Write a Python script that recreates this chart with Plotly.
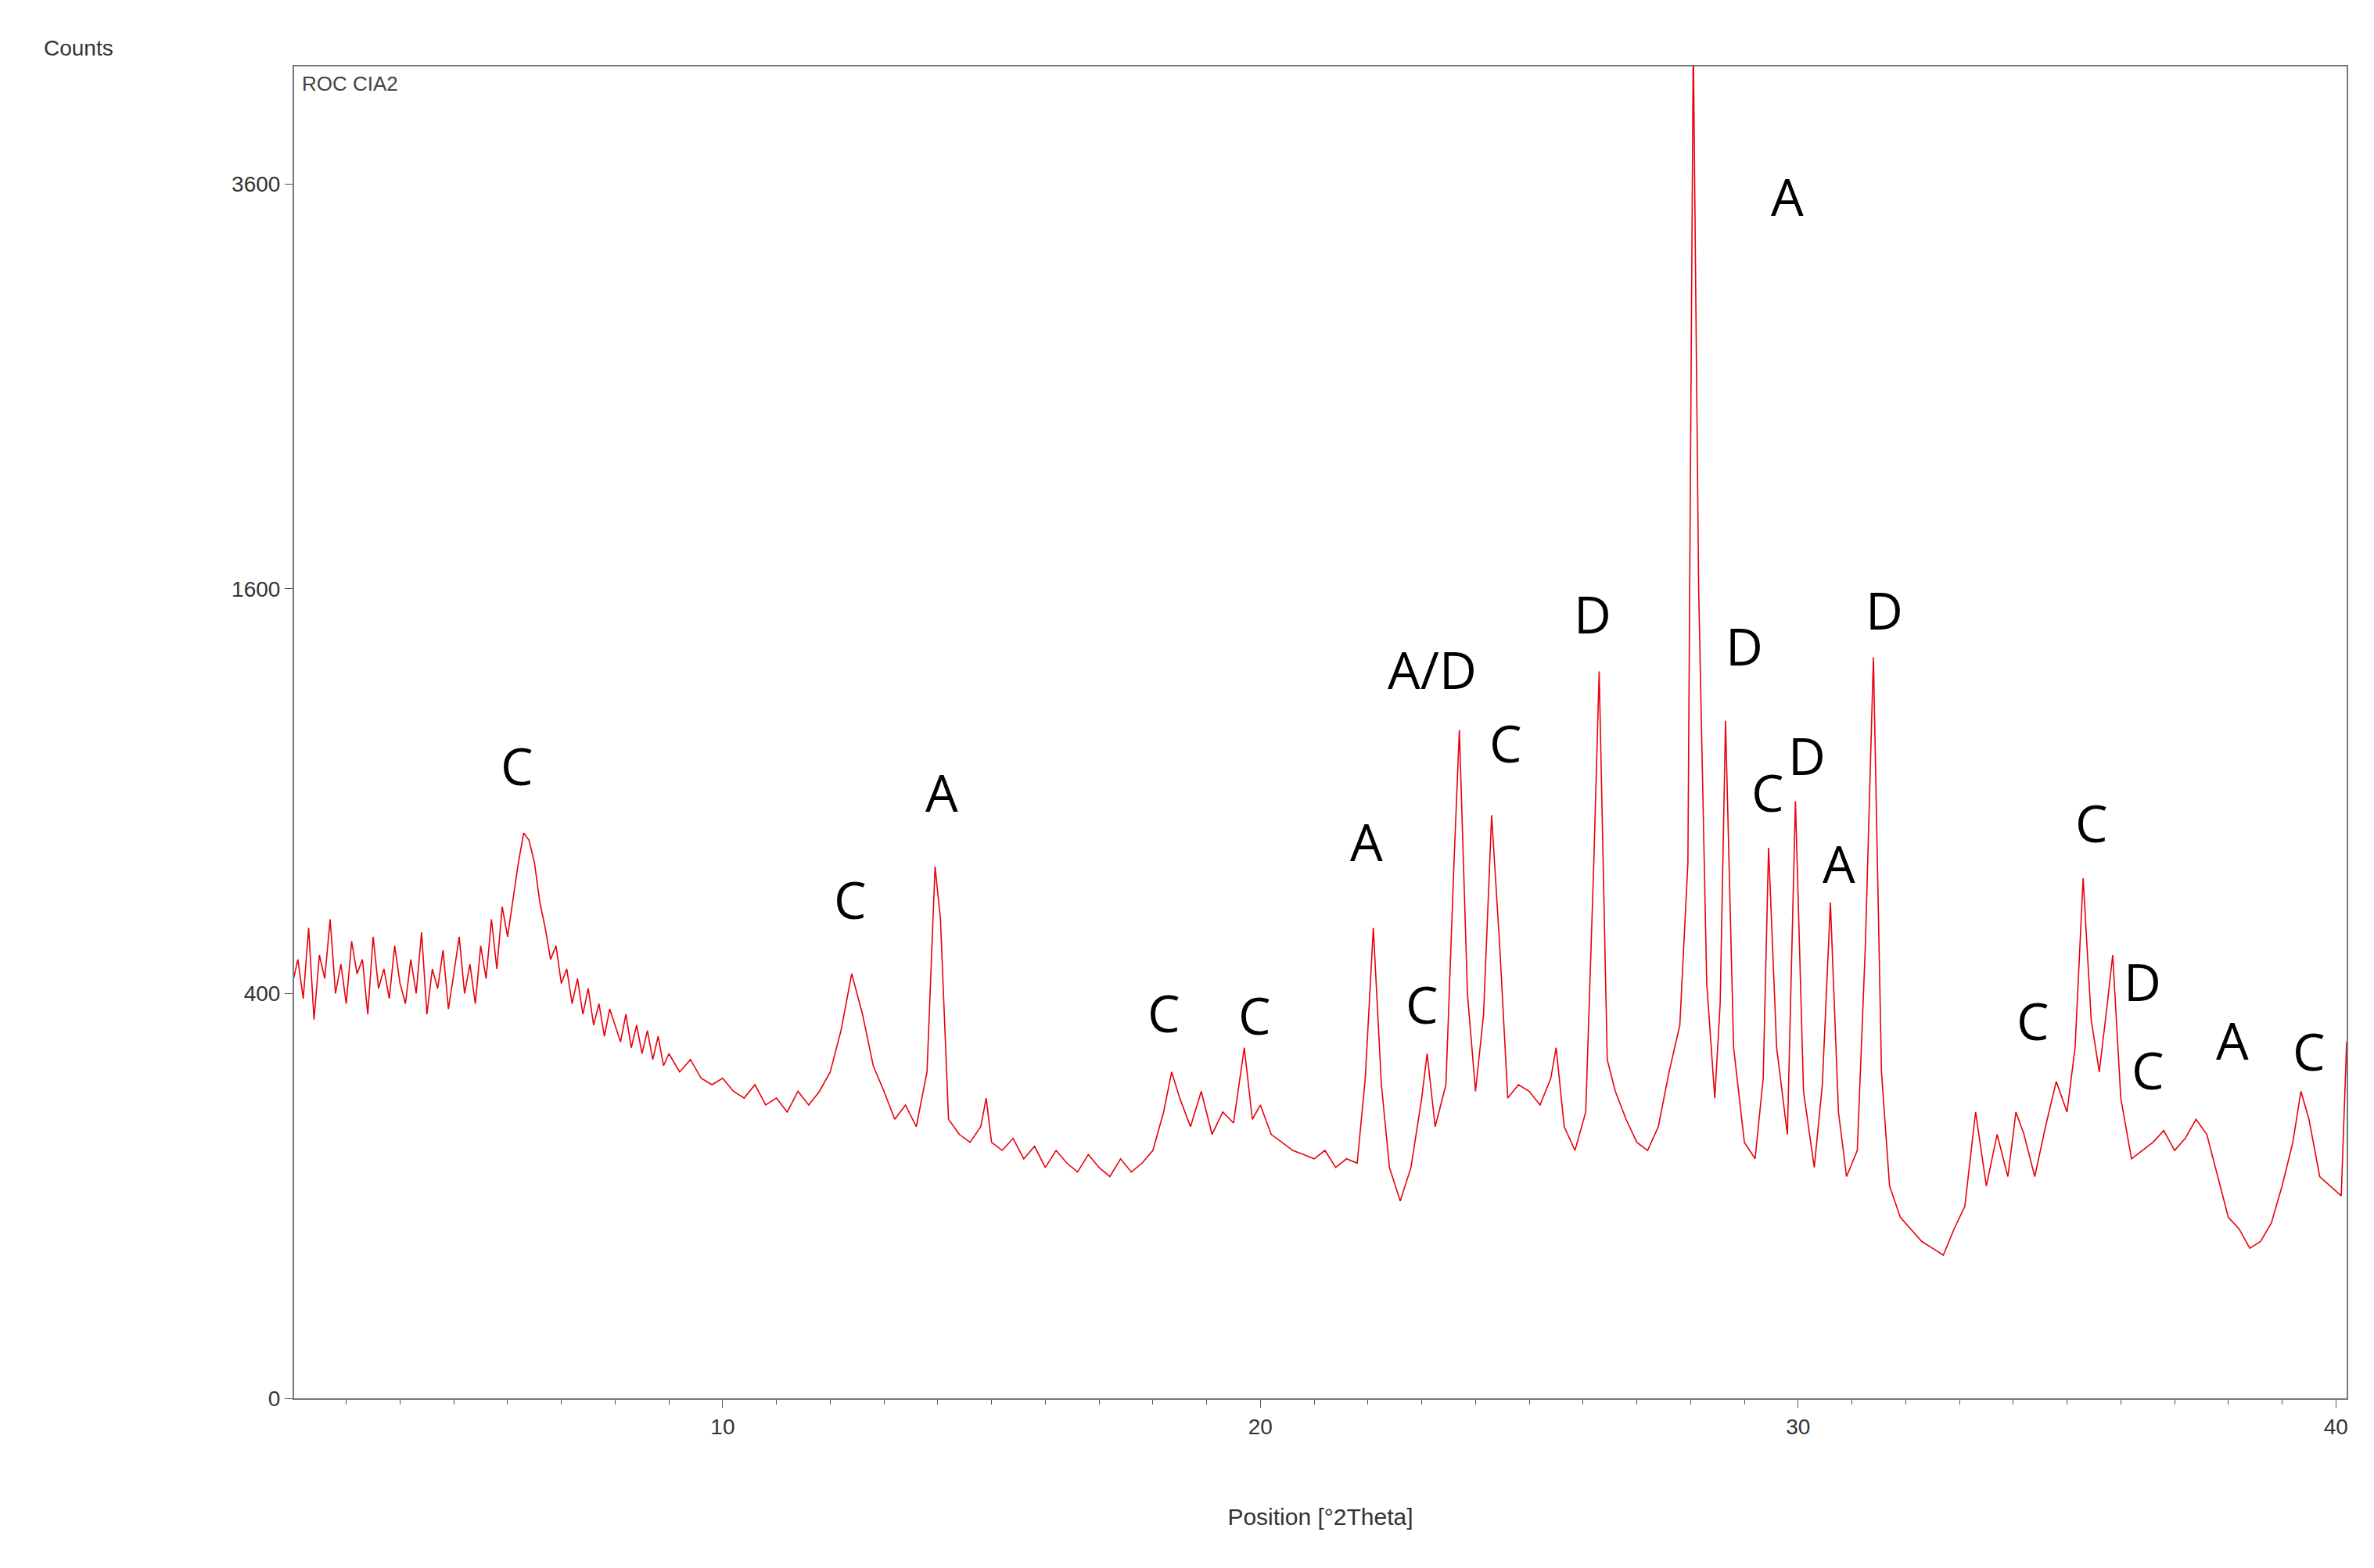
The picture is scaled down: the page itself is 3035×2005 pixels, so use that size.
import numpy as np
import plotly.graph_objects as go

# 2theta positions and counts
two_theta = [2.0, 2.1, 2.2, 2.3, 2.4, 2.5, 2.6, 2.7, 2.8, 2.9, 3.0, 3.1, 3.2, 3.3, 3.4, 3.5, 3.6, 3.7, 3.8, 3.9,
             4.0, 4.1, 4.2, 4.3, 4.4, 4.5, 4.6, 4.7, 4.8, 4.9, 5.0, 5.1, 5.2, 5.3, 5.4, 5.5, 5.6, 5.7, 5.8, 5.9,
             6.0, 6.1, 6.2, 6.3, 6.4, 6.5, 6.6, 6.7, 6.8, 6.9, 7.0, 7.1, 7.2, 7.3, 7.4, 7.5, 7.6, 7.7, 7.8, 7.9,
             8.0, 8.1, 8.2, 8.3, 8.4, 8.5, 8.6, 8.7, 8.8, 8.9, 9.0, 9.2, 9.4, 9.6, 9.8, 10.0, 10.2, 10.4, 10.6, 10.8,
             11.0, 11.2, 11.4, 11.6, 11.8, 12.0, 12.2, 12.4, 12.6, 12.8, 13.0, 13.2, 13.4, 13.6, 13.8, 13.95, 14.05, 14.2, 14.4, 14.6,
             14.8, 14.9, 15.0, 15.2, 15.4, 15.6, 15.8, 16.0, 16.2, 16.4, 16.6, 16.8, 17.0, 17.2, 17.4, 17.6, 17.8, 18.0, 18.2, 18.35,
             18.5, 18.7, 18.9, 19.1, 19.3, 19.5, 19.7, 19.85, 20.0, 20.2, 20.4, 20.6, 20.8, 21.0, 21.2, 21.4, 21.6, 21.8, 21.95, 22.1,
             22.25, 22.4, 22.6, 22.8, 23.0, 23.1, 23.25, 23.45, 23.6, 23.7, 23.85, 24.0, 24.15, 24.3, 24.45, 24.6, 24.8, 25.0, 25.2, 25.4,
             25.5, 25.65, 25.85, 26.05, 26.2, 26.3, 26.45, 26.6, 26.8, 27.0, 27.2, 27.4, 27.6, 27.8, 27.95, 28.05, 28.15, 28.3, 28.45, 28.55,
             28.65, 28.8, 29.0, 29.2, 29.35, 29.45, 29.6, 29.8, 29.95, 30.1, 30.3, 30.45, 30.6, 30.75, 30.9, 31.1, 31.25, 31.4, 31.55, 31.7,
             31.9, 32.1, 32.3, 32.5, 32.7, 32.9, 33.1, 33.3, 33.5, 33.7, 33.9, 34.05, 34.2, 34.4, 34.6, 34.8, 35.0, 35.15, 35.3, 35.45,
             35.6, 35.75, 35.85, 36.0, 36.2, 36.4, 36.6, 36.8, 37.0, 37.2, 37.4, 37.6, 37.8, 38.0, 38.2, 38.4, 38.6, 38.8, 39.0, 39.2,
             39.35, 39.5, 39.7, 39.9, 40.1, 40.2]
counts = [420, 470, 390, 540, 350, 480, 430, 560, 400, 460, 380, 510, 440, 470, 360, 520, 410, 450, 390, 500,
          420, 380, 470, 400, 530, 360, 450, 410, 490, 370, 440, 520, 400, 460, 380, 500, 430, 560, 450, 590,
          520, 610, 700, 780, 760, 700, 600, 540, 470, 500, 420, 450, 380, 430, 360, 410, 340, 380, 320, 370,
          340, 310, 360, 300, 340, 290, 330, 280, 320, 270, 290, 260, 280, 250, 240, 250, 230, 220, 240, 210,
          220, 200, 230, 210, 230, 260, 330, 440, 360, 270, 230, 190, 210, 180, 260, 690, 560, 190, 170, 160,
          180, 220, 160, 150, 165, 140, 155, 130, 150, 135, 125, 145, 130, 120, 140, 125, 135, 150, 200, 260,
          220, 180, 230, 170, 200, 185, 300, 190, 210, 170, 160, 150, 145, 140, 150, 130, 140, 135, 250, 540,
          240, 130, 95, 130, 220, 290, 180, 240, 700, 1090, 400, 230, 360, 830, 500, 220, 240, 230, 210, 250,
          300, 180, 150, 200, 700, 1290, 280, 230, 190, 160, 150, 180, 260, 340, 700, 4500, 1600, 420, 220, 380,
          1120, 300, 160, 140, 250, 740, 300, 170, 870, 230, 130, 240, 600, 200, 120, 150, 500, 1340, 260, 110,
          80, 70, 60, 55, 50, 70, 90, 200, 110, 170, 120, 200, 170, 120, 180, 245, 200, 300, 660, 350,
          260, 380, 480, 220, 140, 150, 160, 175, 150, 165, 190, 170, 120, 80, 70, 55, 60, 75, 110, 160,
          230, 190, 120, 110, 100, 310]

peak_labels = ["C", "C", "A", "C", "C", "A", "C", "A/D", "C", "D", "A", "D", "C", "D", "A", "D",
               "C", "C", "D", "C", "A", "C"]
label_x = [6.17, 12.37, 14.08, 18.2, 19.9, 21.97, 23.0, 23.2, 24.56, 26.17, 29.8, 29.0, 29.44, 30.17, 30.76, 31.6,
           34.37, 35.46, 36.4, 36.5, 38.08, 39.5]
label_counts = [980, 610, 900, 365, 360, 760, 380, 1300, 1050, 1505, 3530, 1385, 900, 1010, 700, 1520,
                350, 810, 425, 265, 315, 295]

y_ticks = [0, 400, 1600, 3600]

fig = go.Figure()
fig.add_trace(go.Scatter(x=two_theta, y=np.sqrt(counts), mode="lines",
                         line=dict(color="#e8000b", width=1.6), hoverinfo="skip"))

for lab, lx, lc in zip(peak_labels, label_x, label_counts):
    fig.add_annotation(x=lx, y=np.sqrt(lc), text=lab, showarrow=False,
                       font=dict(family="Open Sans", size=66, color="black"))

fig.add_annotation(xref="paper", yref="paper", x=0.003, y=0.997, xanchor="left", yanchor="top",
                   text="ROC CIA2", showarrow=False, font=dict(family="Arial", size=26, color="#444"))
fig.add_annotation(xref="paper", yref="paper", x=-0.105, y=1.014, xanchor="center", yanchor="middle",
                   text="Counts", showarrow=False, font=dict(family="Arial", size=28, color="#333"))

fig.update_layout(
    width=3035, height=2005, plot_bgcolor="white", paper_bgcolor="white", showlegend=False,
    margin=dict(l=368, r=43, t=77, b=225),
    xaxis=dict(range=[2.03, 40.2], tickvals=[10, 20, 30, 40], ticks="outside", ticklen=10,
               tickcolor="#555", tickfont=dict(family="Arial", size=28, color="#333"),
               minor=dict(dtick=1, tick0=0, ticks="outside", ticklen=6, tickcolor="#555"),
               showgrid=False, zeroline=False, showline=True, linecolor="#777", linewidth=2, mirror=True,
               title=dict(text="Position [°2Theta]", font=dict(family="Arial", size=30, color="#333"), standoff=90)),
    yaxis=dict(range=[0, 65.8], tickvals=np.sqrt(y_ticks), ticktext=[str(v) for v in y_ticks],
               ticks="outside", ticklen=10, tickcolor="#555",
               tickfont=dict(family="Arial", size=28, color="#333"),
               showgrid=False, zeroline=False, showline=True, linecolor="#777", linewidth=2, mirror=True),
)
fig.write_html("out.html")
